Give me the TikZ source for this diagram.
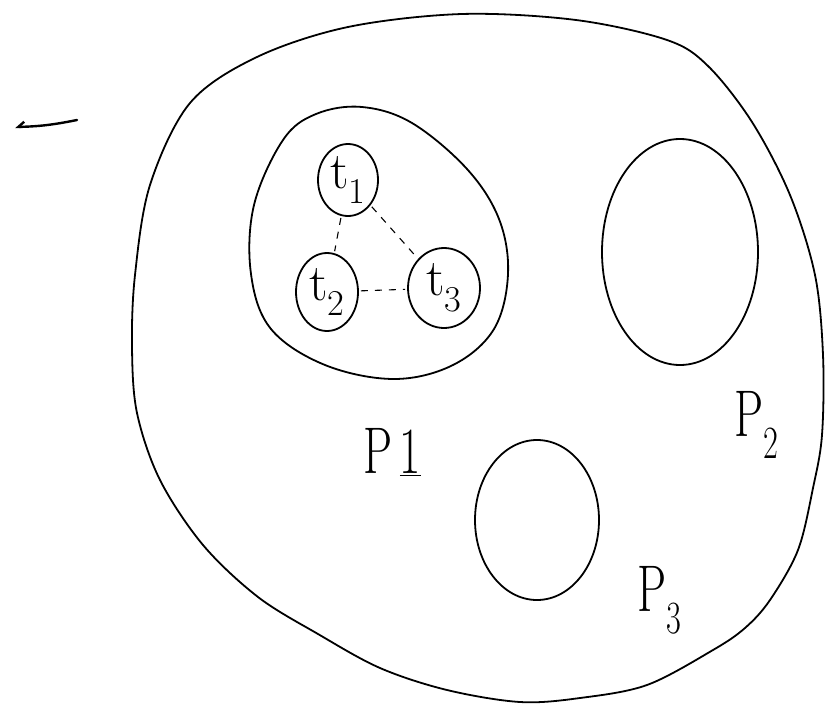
\documentclass[tikz,border=0pt]{standalone}
\usetikzlibrary{shapes.geometric,arrows.meta}
\begin{document}
\begin{tikzpicture}[x=1pt,y=-1pt,
  ink/.style={line width=1.8pt, line join=round, line cap=round},
  cell/.style={ellipse, draw, ink, inner sep=0pt},
  tnode/.style={cell, font=\fontsize{52}{52}\selectfont},
  tlink/.style={line width=1.1pt, dash pattern=on 7pt off 7pt, shorten >=2pt, shorten <=2pt},
  lbl/.style={font=\fontsize{66}{66}\selectfont, xscale=0.7, transform shape}]
\useasboundingbox (0,0) rectangle (835,720);
% outer region
\draw[ink] plot[smooth cycle, tension=0.55] coordinates {
 (462,14) (576,20) (667,40) (708,66) (752,122) (790,195) (815,275) (823,355)
 (822,435) (813,488) (798,550) (770,600) (745,628) (713,650) (647,685)
 (580,698) (520,702) (447,690) (380,668) (318,634) (258,597) (203,545)
 (160,480) (137,413) (132,347) (135,275) (150,185) (190,103) (257,57) (348,27)};
% P1 region
\draw[ink] plot[smooth cycle, tension=0.6] coordinates {
 (362,107) (412,123) (467,169) (499,219) (508,274) (494,329) (453,365)
 (394,379) (325,365) (271,329) (251,274) (254,205) (283,140) (316,114)};
% threads
\node[tnode, minimum width=60pt, minimum height=72pt] (t1) at (348,180) {t\textsubscript{1}};
\node[tnode, minimum width=62pt, minimum height=78pt] (t2) at (327,292) {t\textsubscript{2}};
\node[tnode, minimum width=72pt, minimum height=80pt] (t3) at (444,288) {t\textsubscript{3}};
\draw[tlink] (t1) -- (t2);
\draw[tlink] (t1) -- (t3);
\draw[tlink] (t2) -- (t3);
% other processes
\node[cell, minimum width=156pt, minimum height=226pt] (p2) at (680,252) {};
\node[cell, minimum width=124pt, minimum height=160pt] (p3) at (537,520) {};
% labels
\node[lbl] (l1) at (392,452) {P\,\underline{1}};
\node[lbl] (l2) at (757,425) {P\textsubscript{2}};
\node[lbl] (l3) at (660,600) {P\textsubscript{3}};
% stray arrow
\coordinate (arrS) at (77,120);
\coordinate (arrE) at (15,127);
\draw[line width=2.4pt, line cap=round, -{Straight Barb[right, length=6pt, width=10pt]}] (arrS) to[bend left=5] (arrE);
\end{tikzpicture}
\end{document}
